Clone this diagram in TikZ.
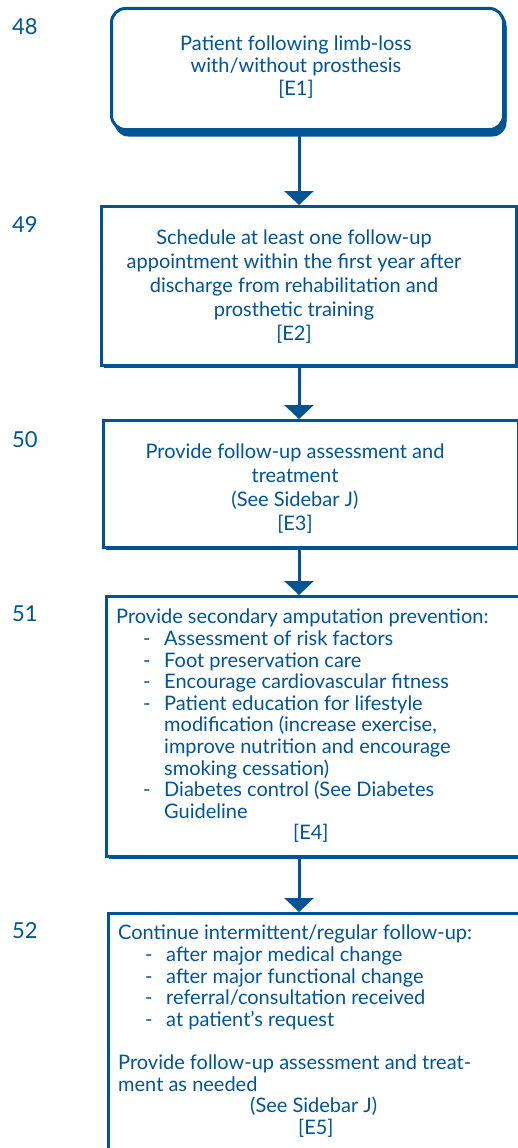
\documentclass[tikz,border=0pt]{standalone}
\usepackage{fontspec}
\setmainfont{Lato}
\usetikzlibrary{arrows.meta}
\usetikzlibrary{shadows}
\definecolor{fcblue}{RGB}{0,84,150}
\newcommand{\fcitem}[1]{\hspace*{27pt}\makebox[21pt][l]{-}#1}
\newcommand{\fcmore}{\hspace*{48pt}}

\begin{document}
\begin{tikzpicture}[x=1pt,y=-1pt,
   fcbox/.style={draw=fcblue,line width=2.5pt,fill=white,anchor=north west,inner sep=0pt,
      drop shadow={shadow xshift=3pt,shadow yshift=-3pt,fill=fcblue,opacity=1}},
   fctext/.style={text=fcblue,inner sep=0pt},
   fcnum/.style={text=fcblue,font=\fontsize{22}{24}\selectfont,anchor=west,inner sep=0pt},
   fcarrow/.style={draw=fcblue,line width=3pt,-{Triangle[width=29pt,length=14pt]}}]
   \useasboundingbox (0,0) rectangle (518,1148);
   \clip (0,0) rectangle (518,1148);

   % step numbers
   \node[fcnum] (n48) at (12,27) {48};
   \node[fcnum] (n49) at (12,225) {49};
   \node[fcnum] (n50) at (12,440) {50};
   \node[fcnum] (n51) at (12,614) {51};
   \node[fcnum] (n52) at (12,931) {52};

   % boxes
   \node[fcbox,line width=3pt,rounded corners=14pt,minimum width=392pt,minimum height=121pt,
      drop shadow={shadow xshift=3pt,shadow yshift=-7pt,fill=fcblue,opacity=1}] (b1) at (110,7) {};
   \node[fcbox,minimum width=415pt,minimum height=159pt] (b2) at (100,205) {};
   \node[fcbox,minimum width=415pt,minimum height=127pt] (b3) at (102,419) {};
   \node[fcbox,minimum width=420pt,minimum height=260pt] (b4) at (105,595) {};
   \node[fcbox,minimum width=420pt,minimum height=260pt] (b5) at (107,912) {};

   \node[fctext,align=center,font=\fontsize{20}{22.5}\selectfont] (t1) at (296,67)
      {Patient following limb-loss\\with/without prosthesis\\{[E1]}};
   \node[fctext,align=center,font=\fontsize{20}{24}\selectfont] (t2) at (294,287)
      {Schedule at least one follow-up\\appointment within the first year after\\discharge from rehabilitation and\\prosthetic training\\{[E2]}};
   \node[fctext,align=center,font=\fontsize{20}{24}\selectfont] (t3) at (295,489)
      {Provide follow-up assessment and\\treatment\\(See Sidebar J)\\{[E3]}};
   \node[fctext,align=left,anchor=north west,font=\fontsize{20}{21.6}\selectfont] (t4) at (116,609)
      {Provide secondary amputation prevention:\\
       \fcitem{Assessment of risk factors}\\
       \fcitem{Foot preservation care}\\
       \fcitem{Encourage cardiovascular fitness}\\
       \fcitem{Patient education for lifestyle}\\
       \fcmore modification (increase exercise,\\
       \fcmore improve nutrition and encourage\\
       \fcmore smoking cessation)\\
       \fcitem{Diabetes control (See Diabetes}\\
       \fcmore Guideline\\
       \hspace*{177pt}[E4]};
   \node[fctext,align=left,anchor=north west,font=\fontsize{20}{21.6}\selectfont] (t5) at (118,925)
      {Continue intermittent/regular follow-up:\\
       \fcitem{after major medical change}\\
       \fcitem{after major functional change}\\
       \fcitem{referral/consultation received}\\
       \fcitem{at patient’s request}\\[21.6pt]
       Provide follow-up assessment and treat-\\
       ment as needed\\
       \hspace*{132pt}(See Sidebar J)\\
       \hspace*{180pt}[E5]};

   % connectors
   \coordinate (ax) at (299,0);
   \draw[fcarrow] (b1.south -| ax) -- (b2.north -| ax);
   \draw[fcarrow] (b2.south -| ax) -- (b3.north -| ax);
   \draw[fcarrow] (b3.south -| ax) -- (b4.north -| ax);
   \draw[fcarrow] (b4.south -| ax) -- (b5.north -| ax);
\end{tikzpicture}
\end{document}
